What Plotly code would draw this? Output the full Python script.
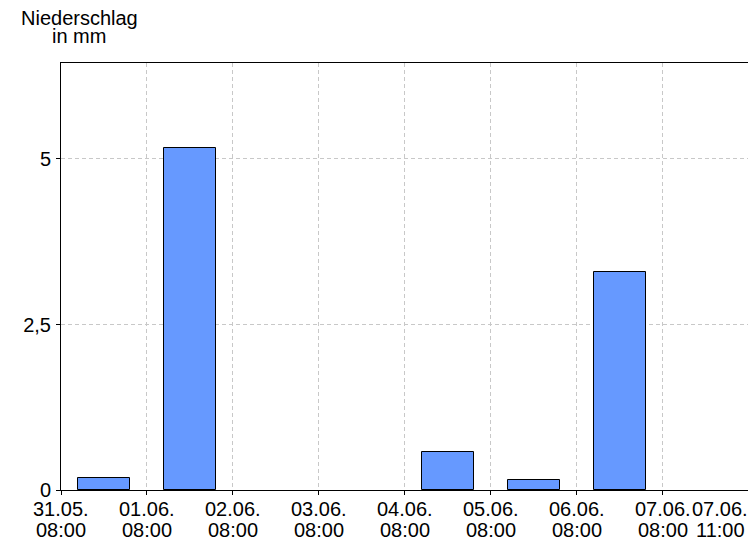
import plotly.graph_objects as go

# Data
day_labels = ["31.05.", "01.06.", "02.06.", "03.06.", "04.06.", "05.06.", "06.06.", "07.06."]
time_labels = ["08:00", "08:00", "08:00", "08:00", "08:00", "08:00", "08:00", "08:00"]
end_day_label = "07.06."
end_time_label = "11:00"
bar_days = [0.5, 1.5, 2.5, 3.5, 4.5, 5.5, 6.5]   # day offsets from 31.05. 08:00 (bar centres)
precip_mm = [0.18, 5.17, 0.0, 0.0, 0.57, 0.15, 3.3]
y_ticks = [0, 2.5, 5]
y_tick_text = ["0", "2,5", "5"]

FONT = "Liberation Sans, Arial, sans-serif"

fig = go.Figure()
fig.add_trace(go.Bar(
    x=bar_days, y=precip_mm, width=0.6,
    marker=dict(color="#6699ff",
                line=dict(color="black", width=[1 if v > 0 else 0 for v in precip_mm])),
    showlegend=False,
))

# page body has an 8px margin; keep the figure inside the viewport (no scrollbars)
fig.update_layout(
    width=740, height=530,
    margin=dict(l=53, r=0, t=55, b=48),
    paper_bgcolor="white", plot_bgcolor="white",
    font=dict(family=FONT, size=20, color="black"),
    bargap=0,
)

fig.update_xaxes(
    range=[0, 7.99],
    tickvals=list(range(len(day_labels))),
    showticklabels=False,
    ticks="outside", ticklen=4, tickcolor="black", tickwidth=1,
    showline=True, linecolor="black", linewidth=1, mirror=True,
    showgrid=True, gridcolor="#c8c8c8", gridwidth=1, griddash="4px,3px",
    zeroline=False,
)
fig.update_yaxes(
    range=[0, 6.45],
    tickvals=y_ticks, ticktext=y_tick_text,
    ticks="outside", ticklen=4, tickcolor="black", tickwidth=1,
    ticklabelstandoff=1,
    showline=True, linecolor="black", linewidth=1, mirror=True,
    showgrid=True, gridcolor="#c8c8c8", gridwidth=1, griddash="4px,3px",
    zeroline=False,
)

DATE_SHIFT = -19
TIME_SHIFT = -40

annotations = []
for i, (d, t) in enumerate(zip(day_labels, time_labels)):
    annotations.append(dict(x=i, xref="x", y=0, yref="paper", text=d, showarrow=False,
                            xanchor="center", yanchor="middle", yshift=DATE_SHIFT,
                            font=dict(family=FONT, size=20, color="black")))
    annotations.append(dict(x=i, xref="x", y=0, yref="paper", text=t, showarrow=False,
                            xanchor="center", yanchor="middle", yshift=TIME_SHIFT,
                            font=dict(family=FONT, size=20, color="black")))
annotations.append(dict(x=1, xref="paper", y=0, yref="paper", text=end_day_label, showarrow=False,
                        xanchor="center", yanchor="middle", yshift=DATE_SHIFT, xshift=-28,
                        font=dict(family=FONT, size=20, color="black")))
annotations.append(dict(x=1, xref="paper", y=0, yref="paper", text=end_time_label, showarrow=False,
                        xanchor="center", yanchor="middle", yshift=TIME_SHIFT, xshift=-28,
                        font=dict(family=FONT, size=20, color="black")))
annotations.append(dict(x=0, xref="paper", y=1, yref="paper", text="Niederschlag", showarrow=False,
                        xanchor="center", yanchor="middle", xshift=18, yshift=45,
                        font=dict(family=FONT, size=20, color="black")))
annotations.append(dict(x=0, xref="paper", y=1, yref="paper", text="in mm", showarrow=False,
                        xanchor="center", yanchor="middle", xshift=18, yshift=27,
                        font=dict(family=FONT, size=20, color="black")))
fig.update_layout(annotations=annotations)

fig.write_html("out.html")
